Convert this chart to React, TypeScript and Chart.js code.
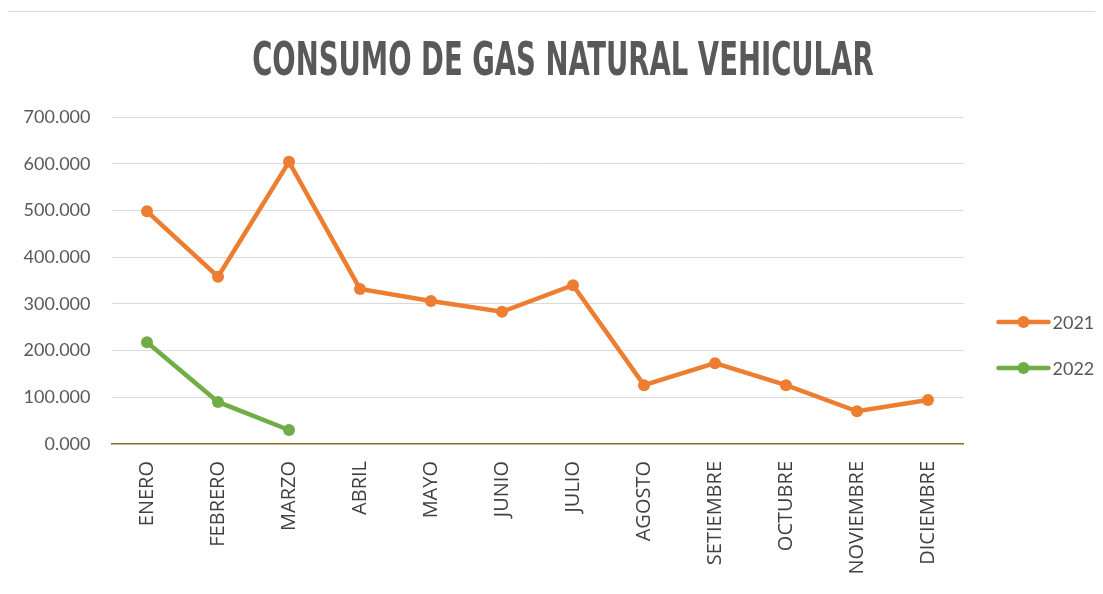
import React, { useEffect, useRef } from "react";
import { Chart, registerables } from "chart.js";

Chart.register(...registerables);

const categories = ["ENERO", "FEBRERO", "MARZO", "ABRIL", "MAYO", "JUNIO", "JULIO", "AGOSTO", "SETIEMBRE", "OCTUBRE", "NOVIEMBRE", "DICIEMBRE"];
const values2021 = [498, 358, 604, 332, 306, 283, 340, 126, 173, 126, 70, 94];
const values2022: (number | null)[] = [218, 90, 30, null, null, null, null, null, null, null, null, null];
const yTicks = [0, 100, 200, 300, 400, 500, 600, 700];
const seriesNames = ["2021", "2022"];
const colors = ["#ED7D31", "#70AD47"];

const legendPlugin = {
  id: "customLegend",
  afterDraw(chart: any) {
    const { ctx, chartArea } = chart;
    const items = chart.data.datasets;
    ctx.save();
    items.forEach((ds: any, i: number) => {
      const y = chartArea.top + 205 + i * 46;
      const x0 = chartArea.right + 35;
      const x1 = chartArea.right + 85;
      ctx.strokeStyle = ds.borderColor;
      ctx.lineWidth = 4.5;
      ctx.lineCap = "round";
      ctx.beginPath();
      ctx.moveTo(x0, y);
      ctx.lineTo(x1, y);
      ctx.stroke();
      ctx.fillStyle = ds.borderColor;
      ctx.beginPath();
      ctx.arc((x0 + x1) / 2, y, 6, 0, Math.PI * 2);
      ctx.fill();
      ctx.fillStyle = "#595959";
      ctx.font = "18px Lato, 'Open Sans', sans-serif";
      ctx.textBaseline = "middle";
      ctx.textAlign = "left";
      ctx.fillText(ds.label, x1 + 4, y + 1);
    });
    ctx.restore();
  },
};

export default function App() {
  const ref = useRef<HTMLCanvasElement | null>(null);

  useEffect(() => {
    if (!ref.current) return;
    const chart = new Chart(ref.current, {
      type: "line",
      data: {
        labels: categories,
        datasets: [
          {
            label: seriesNames[0],
            data: values2021,
            borderColor: colors[0],
            backgroundColor: colors[0],
            borderWidth: 4.5,
            pointRadius: 6,
            pointHoverRadius: 6,
            pointBorderWidth: 0,
            tension: 0,
          },
          {
            label: seriesNames[1],
            data: values2022,
            borderColor: colors[1],
            backgroundColor: colors[1],
            borderWidth: 4.5,
            pointRadius: 6,
            pointHoverRadius: 6,
            pointBorderWidth: 0,
            tension: 0,
          },
        ],
      },
      options: {
        animation: false,
        responsive: false,
        layout: { padding: { left: 0, right: 156.5, top: 105, bottom: 0 } },
        plugins: {
          legend: { display: false },
          title: { display: false },
          tooltip: { enabled: false },
        },
        scales: {
          x: {
            offset: true,
            grid: { display: false, drawTicks: false },
            border: { display: true, color: "#8C6D1F", width: 1.5 },
            ticks: {
              minRotation: 90,
              maxRotation: 90,
              padding: 17,
              color: "#404040",
              font: { family: "'Open Sans', sans-serif", size: 20 },
            },
            afterFit(scale: any) {
              scale.height = 168;
            },
          },
          y: {
            min: 0,
            max: 700,
            afterBuildTicks(scale: any) {
              scale.ticks = yTicks.map((v) => ({ value: v }));
            },
            grid: {
              drawTicks: false,
              color: (c: any) => (c.tick && c.tick.value === 0 ? "rgba(0,0,0,0)" : "#D9D9D9"),
              lineWidth: 1,
            },
            border: { display: false },
            ticks: {
              padding: 21,
              color: "#595959",
              font: { family: "Lato, 'Open Sans', sans-serif", size: 18 },
              callback: (v: any) => Number(v).toFixed(3),
            },
            afterFit(scale: any) {
              scale.width = 105.5;
            },
          },
        },
      },
      plugins: [legendPlugin],
    });
    return () => chart.destroy();
  }, []);

  return (
    <div
      style={{
        position: "relative",
        left: -3,
        top: 3,
        width: 1114,
        height: 600,
        border: "1px solid #D9D9D9",
        background: "#fff",
        boxSizing: "content-box",
      }}
    >
      <canvas ref={ref} width={1114} height={600} style={{ display: "block" }} />
      <div
        style={{
          position: "absolute",
          left: 0,
          width: 1114,
          top: 24,
          textAlign: "center",
          pointerEvents: "none",
        }}
      >
        <span
          style={{
            display: "inline-block",
            fontFamily: "'Liberation Sans Narrow', 'DejaVu Sans Condensed', sans-serif",
            fontWeight: "bold",
            fontSize: 46,
            lineHeight: "46px",
            color: "#595959",
            transform: "scaleX(0.664)",
            whiteSpace: "nowrap",
          }}
        >
          CONSUMO DE GAS NATURAL VEHICULAR
        </span>
      </div>
    </div>
  );
}
